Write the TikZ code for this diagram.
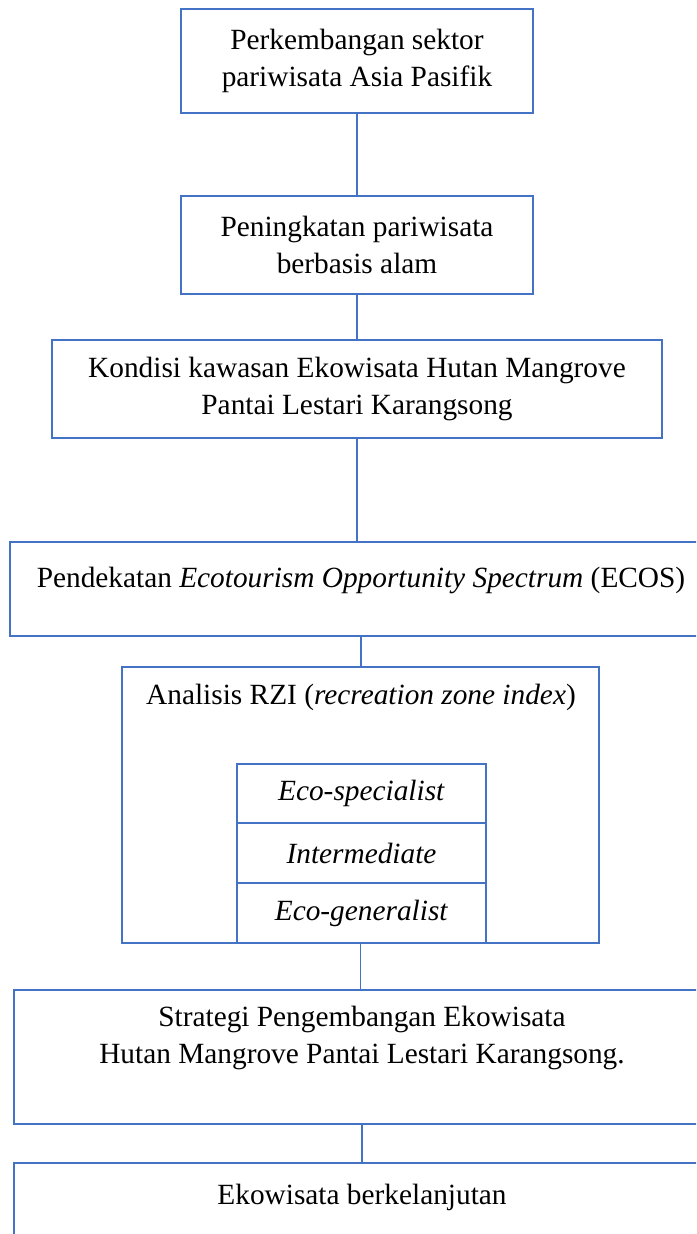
\documentclass[tikz,border=0pt]{standalone}
\usepackage{fontspec}
\setmainfont{Liberation Serif}
\definecolor{boxblue}{HTML}{4472C4}
\tikzset{
  box/.style={draw=boxblue, line width=2.1pt, inner sep=0pt, align=center,
    font=\fontsize{22}{28}\selectfont},
  sz/.style 2 args={minimum width=#1*0.75pt, minimum height=#2*0.75pt},
  txt/.style={inner sep=0pt, align=center, font=\fontsize{22}{28}\selectfont},
  link/.style={draw=boxblue, line width=0.8pt}
}
\begin{document}
\begin{tikzpicture}[x=0.75pt,y=-0.75pt]
\clip (0,0) rectangle (696,1234);
\fill[white] (0,0) rectangle (696,1234);
% boxes
\node[box, sz={352}{104}] (b1) at (357,61) {Perkembangan sektor\\pariwisata Asia Pasifik};
\node[box, sz={352}{98}] (b2) at (357,245) {Peningkatan pariwisata\\berbasis alam};
\node[box, sz={610}{98}] (b3) at (357,389) {Kondisi kawasan Ekowisata Hutan Mangrove\\Pantai Lestari Karangsong};
\node[box, sz={702}{94}] (b4) at (361,589) {};
\node[txt] (t4) at (361,580) {Pendekatan \textit{Ecotourism Opportunity Spectrum} (ECOS)};
\node[box, sz={477}{276}] (b5) at (360.5,805) {};
\node[txt] (t5) at (361,697) {Analisis RZI (\textit{recreation zone index})};
\node[box, sz={249}{59}] (r1) at (361.5,793.5) {\textit{Eco-specialist}};
\node[box, sz={249}{60}] (r2) at (361.5,853) {\textit{Intermediate}};
\node[box, sz={249}{60}] (r3) at (361.5,913) {\textit{Eco-generalist}};
\node[box, sz={696}{134}] (b6) at (362,1057) {};
\node[txt] (t6) at (362,1038) {Strategi Pengembangan Ekowisata\\Hutan Mangrove Pantai Lestari Karangsong.};
\node[box, sz={696}{97}] (b7) at (362,1211.5) {};
\node[txt] (t7) at (362,1197) {Ekowisata berkelanjutan};
% connectors
\draw[link] (b1.south) -- (b1.south |- b2.north);
\draw[link] (b2.south) -- (b2.south |- b3.north);
\draw[link] (b3.south) -- (b3.south |- b4.north);
\draw[link] (b4.south) -- (b4.south |- b5.north);
\draw[link] (b5.south) -- (b5.south |- b6.north);
\draw[link] (b6.south) -- (b6.south |- b7.north);
\end{tikzpicture}
\end{document}
